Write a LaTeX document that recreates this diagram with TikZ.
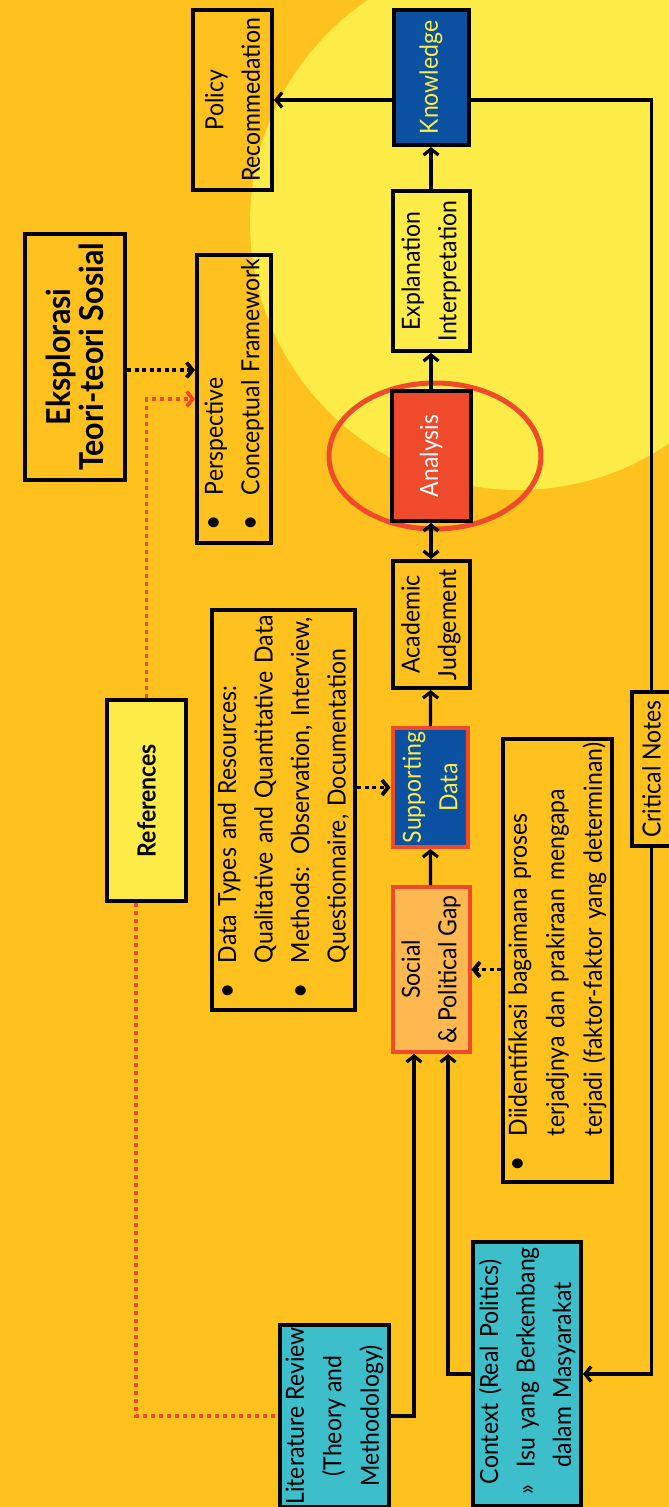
\documentclass[tikz,border=0pt]{standalone}
\usepackage{fontspec}
\setmainfont{Lato}[FakeStretch=0.92]
\usetikzlibrary{arrows.meta}

\definecolor{bggold}{HTML}{FEC11E}
\definecolor{sunyellow}{HTML}{FDEC48}
\definecolor{deepblue}{HTML}{0A52A1}
\definecolor{redorange}{HTML}{EF4A2C}
\definecolor{peach}{HTML}{FEB850}
\definecolor{tealbox}{HTML}{3CBFCB}

\newcommand{\txt}{\fontsize{25}{36.5}\selectfont}
\newcommand{\itm}[1]{\mbox{\makebox[0pt]{\scalebox{1.15}{\textbullet}}\hspace*{28pt}#1}}
\newcommand{\ind}[1]{\mbox{\hspace*{28pt}#1}}

\tikzset{
  box/.style={draw, line width=4pt, rotate=90, inner sep=2pt, align=center, font=\txt},
  lst/.style={box, align=left},
  arr/.style={line width=3.2pt, -{Straight Barb[length=6pt,width=15pt]}},
  dbl/.style={line width=3.2pt, {Straight Barb[length=6pt,width=15pt]}-{Straight Barb[length=6pt,width=15pt]}},
  ln/.style={line width=3.2pt},
  dotarr/.style={line width=3.8pt, dash pattern=on 4pt off 3.5pt, -{Straight Barb[length=6pt,width=15pt]}},
  reddot/.style={line width=3.6pt, draw=redorange, dash pattern=on 4pt off 4pt}
}

\begin{document}
\begin{tikzpicture}[x=1pt,y=-1pt]
  \useasboundingbox (0,0) rectangle (669,1507);
  \clip (0,0) rectangle (669,1507);
  \fill[bggold] (0,0) rectangle (669,1507);
  \fill[sunyellow] (518,222) circle [radius=268];
  \draw[redorange, line width=5pt] (435,456) ellipse [x radius=106, y radius=73];

  \node[box, minimum width=180pt, minimum height=79pt] (pol) at (232.5,100) {Policy\\Recommedation};
  \node[box, fill=deepblue, text=sunyellow, minimum width=135pt, minimum height=75pt] (know) at (431,77.5) {Knowledge};
  \node[box, minimum width=160pt, minimum height=77pt] (expl) at (431,271) {Explanation\\Interpretation};
  \node[box, fill=redorange, text=white, minimum width=130pt, minimum height=79pt] (ana) at (431,456) {Analysis};
  \node[box, minimum width=127pt, minimum height=77pt] (acad) at (431,624.5) {Academic\\Judgement};
  \node[box, fill=deepblue, draw=redorange, text=sunyellow, minimum width=119pt, minimum height=75pt] (supp) at (430,787.5) {Supporting\\Data};
  \node[box, fill=peach, draw=redorange, minimum width=165pt, minimum height=77pt] (soc) at (431,969.5) {Social\\\& Political Gap};
  \node[box, font=\fontsize{33}{33}\selectfont\bfseries, minimum width=246pt, minimum height=100pt] (eks) at (75,357) {Eksplorasi\\Teori-teori Sosial};
  \node[lst, minimum width=288pt, minimum height=74pt, inner xsep=20pt, text width=248pt] (persp) at (234,399)
    {\itm{Perspective}\\\itm{Conceptual Framework}};
  \node[lst, minimum width=400pt, minimum height=143pt, inner xsep=19pt, text width=362pt] (data) at (283.5,810)
    {\itm{Data Types and Resources:}\\\ind{Qualitative and Quantitative Data}\\\itm{Methods: Observation, Interview,}\\\ind{Questionnaire, Documentation}};
  \node[lst, font=\fontsize{25}{37.5}\selectfont, minimum width=443pt, minimum height=109pt, inner xsep=18pt, text width=407pt] (diid) at (557.5,960.5)
    {\itm{Diidentifikasi bagaimana proses}\\\ind{terjadjnya dan prakiraan mengapa}\\\ind{terjadi (faktor-faktor yang determinan)}};
  \node[box, minimum width=154pt, minimum height=39pt] (crit) at (651.5,769) {Critical Notes};
  \node[box, fill=sunyellow, font=\txt\bfseries, minimum width=201pt, minimum height=79pt] (refs) at (146.5,800.5) {References};
  \node[box, fill=tealbox, font=\fontsize{25}{37.5}\selectfont, minimum width=180pt, minimum height=109pt] (lit) at (334.5,1416) {Literature Review\\(Theory and\\Methodology)};
  \node[lst, fill=tealbox, minimum width=264pt, minimum height=108pt, inner xsep=12pt, text width=240pt] (ctx) at (527,1374)
    {\mbox{\hspace*{10pt}Context (Real Politics)}\\\mbox{\makebox[27pt][l]{»}Isu yang Berkembang}\\\mbox{\hspace*{27pt}dalam Masyarakat}};

  \draw[arr] (know.north |- pol) -- (pol);
  \draw[ln] (know.south |- pol) -| (crit);
  \draw[arr] (crit) |- (ctx);
  \draw[arr] (expl) -- (know);
  \draw[arr] (ana) -- (expl);
  \draw[dbl] (acad) -- (ana);
  \draw[arr] (supp) -- (acad);
  \draw[arr] (soc) -- (supp);
  \draw[arr] (lit) -| ([xshift=-17pt]soc.west);
  \draw[arr] (ctx) -| ([xshift=17pt]soc.west);
  \coordinate (e1) at ([yshift=-13pt]eks.south);
  \draw[dotarr] (e1) -- (e1 -| persp.north);
  \draw[dotarr] (data.south |- supp) -- (supp);
  \draw[dotarr] (diid.north |- soc) -- (soc);
  \draw[reddot, -{Straight Barb[length=6pt,width=15pt]}] (refs) |- (persp);
  \draw[reddot] ([xshift=-10.5pt]refs.west) |- (lit);
\end{tikzpicture}
\end{document}
